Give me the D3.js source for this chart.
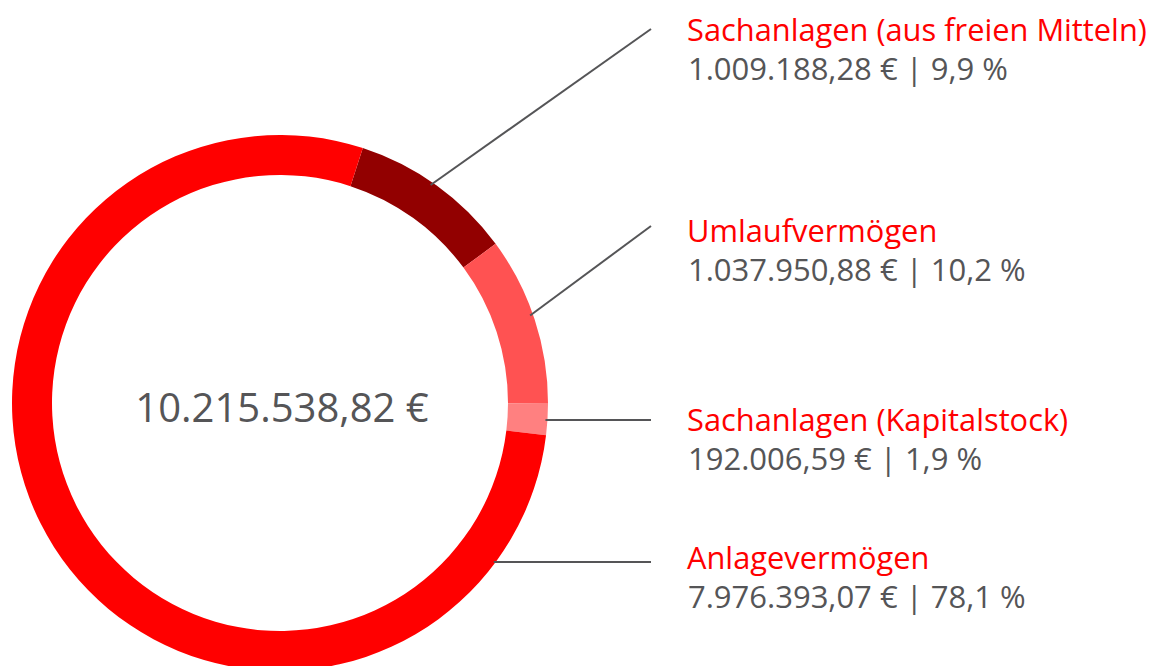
<!DOCTYPE html>
<html>
<head>
<meta charset="utf-8">
<script src="https://cdn.jsdelivr.net/npm/d3@7"></script>
<style>
  html, body { margin: 0; padding: 0; background: #fff; }
  svg { display: block; font-family: "Open Sans", sans-serif; }
</style>
</head>
<body>
<svg id="chart"></svg>
<script>
const categories = ["Sachanlagen (aus freien Mitteln)", "Umlaufvermögen", "Sachanlagen (Kapitalstock)", "Anlagevermögen"];
const amounts = [1009188.28, 1037950.88, 192006.59, 7976393.07];
const shares = [9.9, 10.2, 1.9, 78.1];
const colors = ["#920000", "#ff5252", "#ff8080", "#ff0000"];

const width = 1149, height = 666;
const cx = 280, cy = 403;
const outerR = 268, innerR = 228;
const startAngle = 18 * Math.PI / 180;

// label layout (title baselines and where the leader lines end)
const titleY = [41, 242, 431, 569];
const leaderY = [29, 226, 420, 562];
const leaderEndX = 651, labelX = 687;

const locale = d3.formatLocale({ decimal: ",", thousands: ".", grouping: [3], currency: ["", " €"] });
const fmtMoney = locale.format(",.2f");
const fmtShare = locale.format(".1f");

const svg = d3.select("#chart")
    .attr("width", width)
    .attr("height", height);

const pie = d3.pie()
    .sort(null)
    .value(d => d)
    .startAngle(startAngle)
    .endAngle(startAngle + 2 * Math.PI);

const arcs = pie(amounts);

const arc = d3.arc()
    .innerRadius(innerR)
    .outerRadius(outerR);

const g = svg.append("g")
    .attr("transform", `translate(${cx}, ${cy})`);

g.selectAll("path")
    .data(arcs)
    .join("path")
    .attr("d", arc)
    .attr("fill", (d, i) => colors[i]);

g.append("text")
    .attr("x", 2)
    .attr("y", 19)
    .attr("text-anchor", "middle")
    .attr("font-size", "40px")
    .attr("fill", "#555557")
    .text(fmtMoney(d3.sum(amounts)) + " €");

// leader lines: horizontal if the label row crosses the slice, else from the slice middle
function leaderStart(d, i) {
    const dy = leaderY[i] - cy;
    if (Math.abs(dy) < outerR) {
        const dx = Math.sqrt(outerR * outerR - dy * dy);
        let a = Math.atan2(dx, -dy);
        if (a < d.startAngle) a += 2 * Math.PI;
        if (a >= d.startAngle && a <= d.endAngle) return [cx + dx - 2, leaderY[i]];
    }
    const m = (d.startAngle + d.endAngle) / 2 - 0.02;
    const r = outerR - 3;
    return [cx + Math.sin(m) * r, cy - Math.cos(m) * r];
}

svg.selectAll(".leader")
    .data(arcs)
    .join("line")
    .attr("class", "leader")
    .attr("x1", (d, i) => leaderStart(d, i)[0])
    .attr("y1", (d, i) => leaderStart(d, i)[1])
    .attr("x2", leaderEndX)
    .attr("y2", (d, i) => leaderY[i])
    .attr("stroke", "#555557")
    .attr("stroke-width", 2);

const labels = svg.selectAll(".label")
    .data(categories)
    .join("g")
    .attr("class", "label");

labels.append("text")
    .attr("x", labelX)
    .attr("y", (d, i) => titleY[i])
    .attr("font-size", "30.8px")
    .attr("fill", "#ff0000")
    .text(d => d);

labels.append("text")
    .attr("x", labelX + 1)
    .attr("y", (d, i) => titleY[i] + 38.5)
    .attr("font-size", "31px")
    .attr("fill", "#555557")
    .text((d, i) => `${fmtMoney(amounts[i])} € | ${fmtShare(shares[i])} %`);
</script>
</body>
</html>
